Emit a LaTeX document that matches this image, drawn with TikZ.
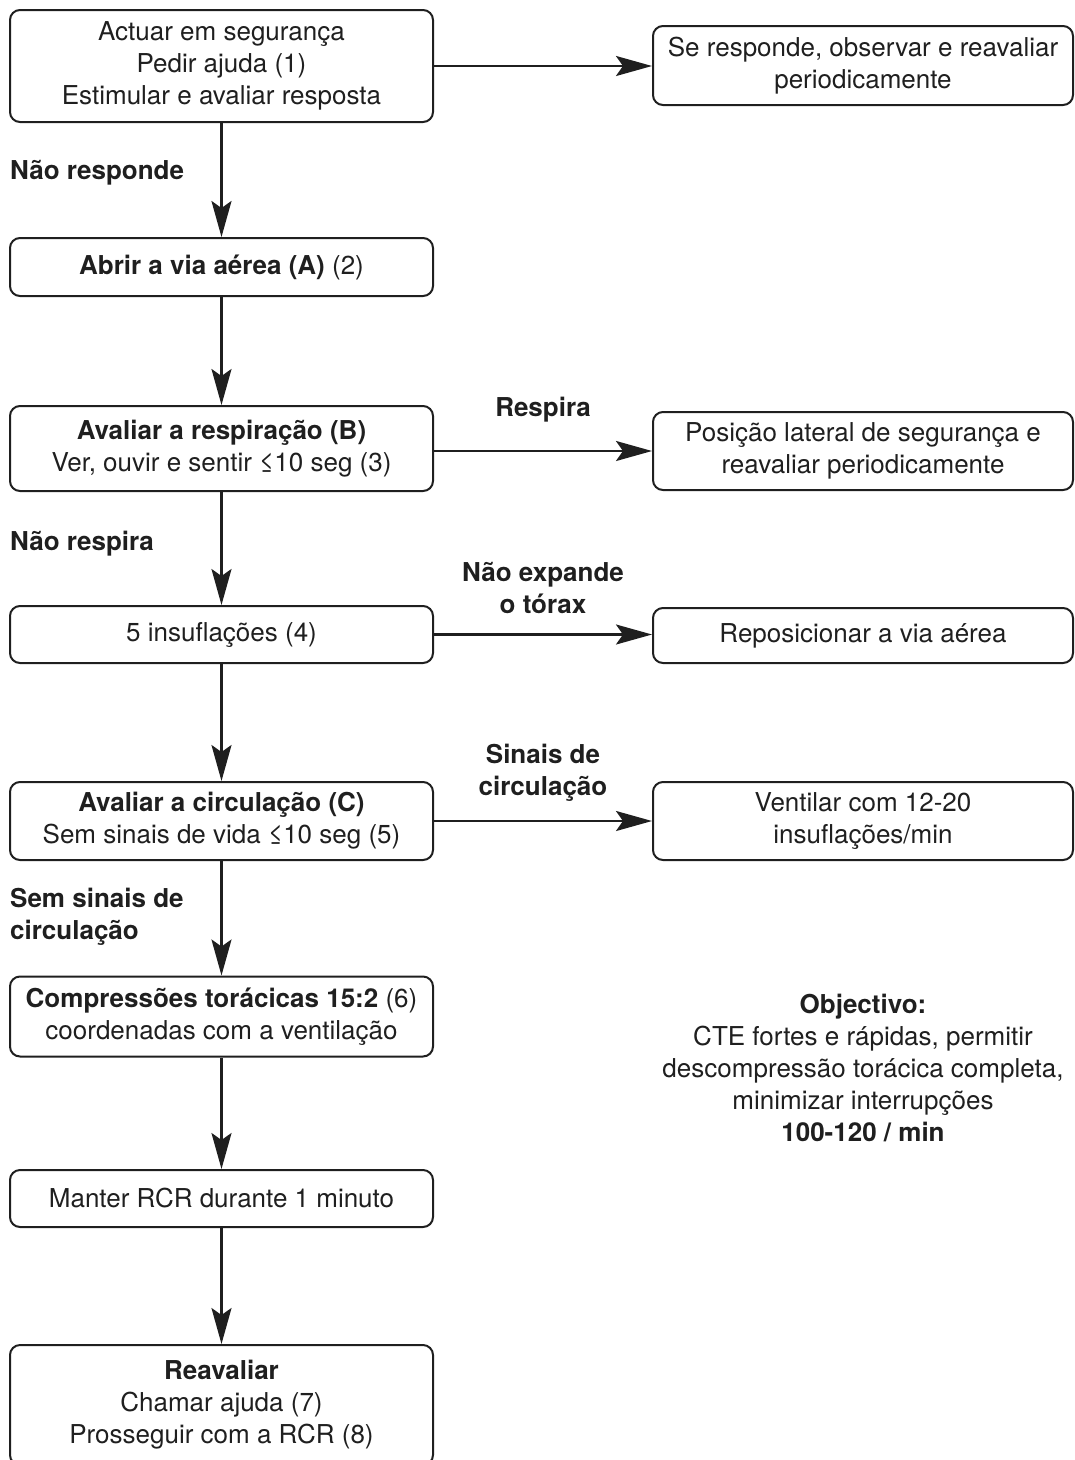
\documentclass[tikz,border=0pt]{standalone}
\usepackage{fontspec}
\setmainfont{TeX Gyre Heros}
\usetikzlibrary{arrows.meta}

\begin{document}
\begin{tikzpicture}[x=1pt,y=-1pt,
  every node/.style={font=\fontsize{26}{32}\selectfont, text=black!88},
  box/.style={draw=black!88, line width=2pt, rounded corners=10pt, align=center, inner sep=0pt, minimum width=423pt},
  sidebox/.style={box, minimum width=420pt},
  lbl/.style={font=\fontsize{26}{32}\selectfont\bfseries, align=center, inner sep=0pt},
  flow/.style={line width=2.4pt, draw=black!88, -{Stealth[length=36pt,width=20pt,inset=7pt]}}]
  \useasboundingbox (0,0) rectangle (1075,1460);
  \clip (0,0) rectangle (1075,1460);

  % main column
  \node[box, minimum height=112pt] (start) at (221.5,66) {Actuar em segurança\\Pedir ajuda (1)\\Estimular e avaliar resposta};
  \node[box, minimum height=58pt] (airway) at (221.5,267) {\textbf{Abrir a via aérea (A)} (2)};
  \node[box, minimum height=85pt] (breath) at (221.5,448.5) {\textbf{Avaliar a respiração (B)}\\Ver, ouvir e sentir ≤10 seg (3)};
  \node[box, minimum height=57pt] (insuf) at (221.5,634.5) {5 insuflações (4)};
  \node[box, minimum height=78pt] (circ) at (221.5,821) {\textbf{Avaliar a circulação (C)}\\Sem sinais de vida ≤10 seg (5)};
  \node[box, minimum height=80pt] (compr) at (221.5,1016.5) {\textbf{Compressões torácicas 15:2} (6)\\coordenadas com a ventilação};
  \node[box, minimum height=57pt] (keep) at (221.5,1198.5) {Manter RCR durante 1 minuto};
  \node[box, minimum height=120pt] (reeval) at (221.5,1405) {\textbf{Reavaliar}\\Chamar ajuda (7)\\Prosseguir com a RCR (8)};

  % side boxes
  \node[sidebox, minimum height=79pt] (observe) at (863,65.5) {Se responde, observar e reavaliar\\periodicamente};
  \node[sidebox, minimum height=78pt] (lateral) at (863,451) {Posição lateral de segurança e\\reavaliar periodicamente};
  \node[sidebox, minimum height=55pt] (repos) at (863,635.5) {Reposicionar a via aérea};
  \node[sidebox, minimum height=78pt] (vent) at (863,821) {Ventilar com 12-20\\insuflações/min};

  \node[align=center] (goal) at (863,1067.5) {\textbf{Objectivo:}\\CTE fortes e rápidas, permitir\\descompressão torácica completa,\\minimizar interrupções\\\textbf{100-120 / min}};

  % labels
  \node[lbl, anchor=west] (noresp) at (10,173) {Não responde};
  \node[lbl, anchor=west] (nobreath) at (10,544) {Não respira};
  \node[lbl, anchor=west, align=left] (nocirc) at (10,916.5) {Sem sinais de\\circulação};
  \node[lbl] (breathes) at (543,410) {Respira};
  \node[lbl] (noexp) at (543,588) {Não expande\\o tórax};
  \node[lbl] (signs) at (543,773) {Sinais de\\circulação};

  % arrows
  \draw[flow] (start) -- (airway);
  \draw[flow] (airway) -- (breath);
  \draw[flow] (breath) -- (insuf);
  \draw[flow] (insuf) -- (circ);
  \draw[flow] (circ) -- (compr);
  \draw[flow] (compr) -- (keep);
  \draw[flow] (keep) -- (reeval);

  \draw[flow] (start.east) -- (observe.west |- start.east);
  \draw[flow] (breath.east |- lateral.west) -- (lateral.west);
  \draw[flow] (insuf.east) -- (repos.west |- insuf.east);
  \draw[flow] (circ.east) -- (vent.west);
\end{tikzpicture}
\end{document}
